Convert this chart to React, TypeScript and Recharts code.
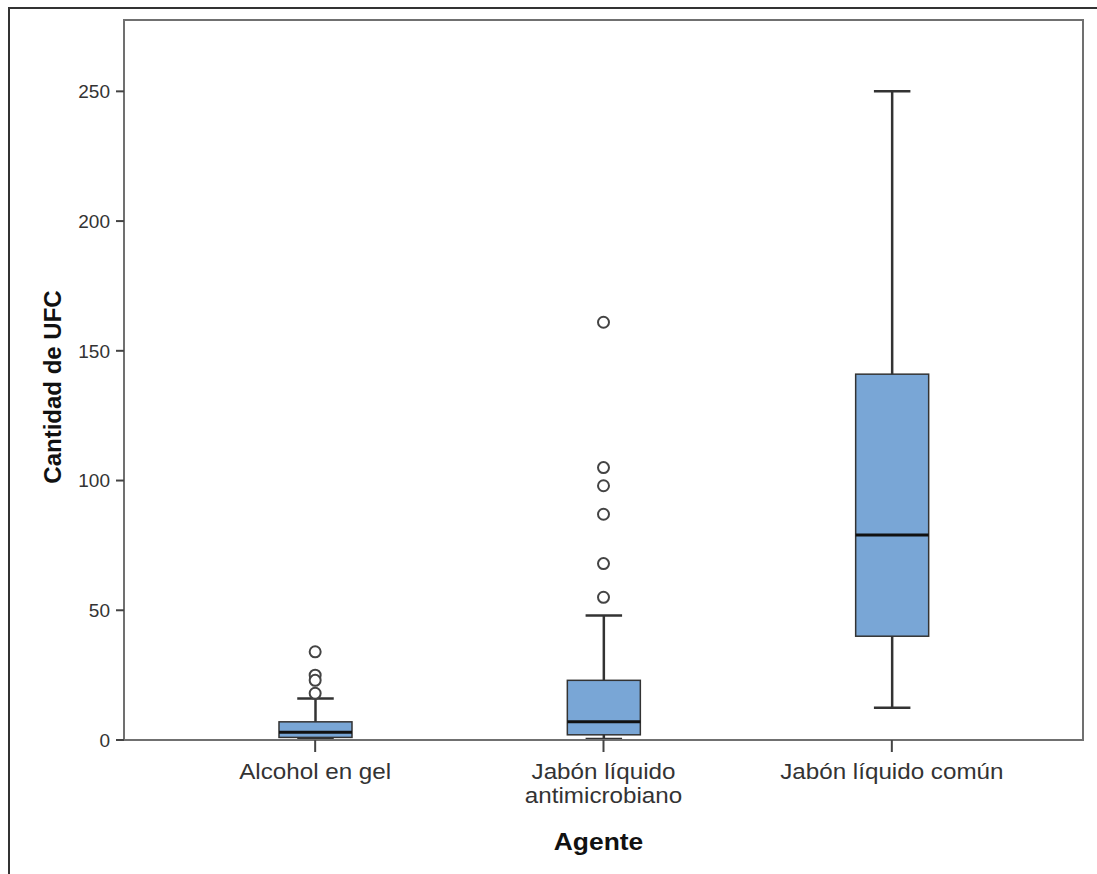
import React from 'react';
import { ComposedChart, Bar, Scatter, XAxis, YAxis, ReferenceArea, Label } from 'recharts';

// ---- data ----
const categories = ['Alcohol en gel', 'Jabón líquido antimicrobiano', 'Jabón líquido común'];
const categoryLines = [['Alcohol en gel'], ['Jabón líquido', 'antimicrobiano'], ['Jabón líquido común']];
const whiskerLow = [0, 0, 12];
const q1 = [1, 2, 40];
const median = [3, 7, 79];
const q3 = [7, 23, 141];
const whiskerHigh = [16, 48, 250];
const outlierCategory = [0, 0, 0, 0, 1, 1, 1, 1, 1, 1];
const outlierValues = [34, 25, 23, 18, 161, 105, 98, 87, 68, 55];
const yTicks = [0, 50, 100, 150, 200, 250];
const xLabel = 'Agente';
const yLabel = 'Cantidad de UFC';

const data = categories.map((name, i) => ({
  x: i,
  name,
  range: [whiskerLow[i], whiskerHigh[i]],
  low: whiskerLow[i],
  high: whiskerHigh[i],
  q1: q1[i],
  median: median[i],
  q3: q3[i],
}));

const outliers = outlierValues.map((v, i) => ({ x: outlierCategory[i], y: v }));

const X_DOMAIN: [number, number] = [-0.663, 2.663];
const Y_DOMAIN: [number, number] = [0, 277.5];
const FONT = '"Liberation Sans", Arial, sans-serif';

const BoxShape = (props: any) => {
  const { x, y, width, height, payload } = props;
  const top = Math.min(y, y + height);
  const h = Math.abs(height);
  const lo = payload.low;
  const hi = payload.high;
  const k = h / (hi - lo);
  const py = (v: number) => top + h - (v - lo) * k;
  const cx = x + width / 2;
  const cap = width / 4;
  return (
    <g>
      <line x1={cx} x2={cx} y1={py(hi)} y2={py(lo)} stroke="#333" strokeWidth={2.5} />
      <line x1={cx - cap} x2={cx + cap} y1={py(hi)} y2={py(hi)} stroke="#333" strokeWidth={2.5} />
      <line x1={cx - cap} x2={cx + cap} y1={py(lo) - 1} y2={py(lo) - 1} stroke="#333" strokeWidth={2.5} />
      <rect
        x={x}
        y={py(payload.q3)}
        width={width}
        height={py(payload.q1) - py(payload.q3)}
        fill="#79a6d6"
        stroke="#333"
        strokeWidth={1.5}
      />
      <line
        x1={x}
        x2={x + width}
        y1={py(payload.median)}
        y2={py(payload.median)}
        stroke="#111"
        strokeWidth={3}
      />
    </g>
  );
};

const OutlierShape = (props: any) => {
  const { cx, cy } = props;
  return <circle cx={cx} cy={cy} r={5.5} fill="#fff" stroke="#444" strokeWidth={2} />;
};

const XTick = (props: any) => {
  const { x, y, payload } = props;
  const lines = categoryLines[payload.value] || [];
  return (
    <g transform={`translate(${x},${y}) scale(1.1,1)`}>
      <text textAnchor="middle" fill="#333" fontSize={22} fontFamily={FONT}>
        {lines.map((l, i) => (
          <tspan key={i} x={0} y={25 + i * 24}>
            {l}
          </tspan>
        ))}
      </text>
    </g>
  );
};

const XTitle = (p: any) => {
  const vb = (p && p.viewBox) || { x: 124, y: 740, width: 959 };
  const cx = vb.x + vb.width / 2 - 5;
  const cy = vb.y + 110;
  return (
    <text
      transform={`translate(${cx},${cy}) scale(1.1,1)`}
      textAnchor="middle"
      fontSize={24}
      fontWeight="bold"
      fill="#111"
      fontFamily={FONT}
    >
      {xLabel}
    </text>
  );
};

const YTitle = (p: any) => {
  const vb = (p && p.viewBox) || { x: 64, y: 20, height: 720 };
  const tx = vb.x - 3;
  const ty = vb.y + vb.height / 2 + 7;
  return (
    <text
      x={tx}
      y={ty}
      transform={`rotate(-90, ${tx}, ${ty})`}
      textAnchor="middle"
      fontSize={24}
      fontWeight="bold"
      fill="#111"
      fontFamily={FONT}
    >
      {yLabel}
    </text>
  );
};

export default function App() {
  return (
    <div style={{ position: 'relative', width: 1097, height: 874, overflow: 'hidden', background: '#fff' }}>
      <style>{'html,body{margin:0;padding:0;overflow:hidden;}'}</style>
      <div
        style={{
          position: 'absolute',
          top: 7,
          left: 8,
          width: 1089,
          height: 867,
          boxSizing: 'border-box',
          borderTop: '2px solid #333',
          borderLeft: '2px solid #333',
        }}
      />
      <div style={{ position: 'absolute', top: 0, left: 0, width: 1097, height: 874, fontFamily: FONT }}>
        <ComposedChart
          width={1097}
          height={874}
          data={data}
          margin={{ top: 20, right: 14, bottom: 34, left: 64 }}
        >
          <ReferenceArea
            x1={X_DOMAIN[0]}
            x2={X_DOMAIN[1]}
            y1={Y_DOMAIN[0]}
            y2={Y_DOMAIN[1]}
            fill="#fff"
            fillOpacity={0}
            stroke="#707070"
            strokeWidth={2}
          />
          <XAxis
            dataKey="x"
            type="number"
            domain={X_DOMAIN}
            ticks={[0, 1, 2]}
            interval={0}
            height={100}
            tickSize={12}
            tick={<XTick />}
            axisLine={{ stroke: '#707070', strokeWidth: 2 }}
            tickLine={{ stroke: '#444', strokeWidth: 2 }}
          >
            <Label content={<XTitle />} />
          </XAxis>
          <YAxis
            type="number"
            domain={Y_DOMAIN}
            ticks={yTicks}
            interval={0}
            width={60}
            tickSize={8}
            tickMargin={6}
            tick={{ fontSize: 19, fill: '#333', fontFamily: FONT }}
            axisLine={{ stroke: '#707070', strokeWidth: 2 }}
            tickLine={{ stroke: '#444', strokeWidth: 2 }}
          >
            <Label content={<YTitle />} />
          </YAxis>
          <Bar dataKey="range" barSize={73} shape={<BoxShape />} isAnimationActive={false} />
          <Scatter data={outliers} dataKey="y" shape={<OutlierShape />} isAnimationActive={false} />
        </ComposedChart>
      </div>
    </div>
  );
}
